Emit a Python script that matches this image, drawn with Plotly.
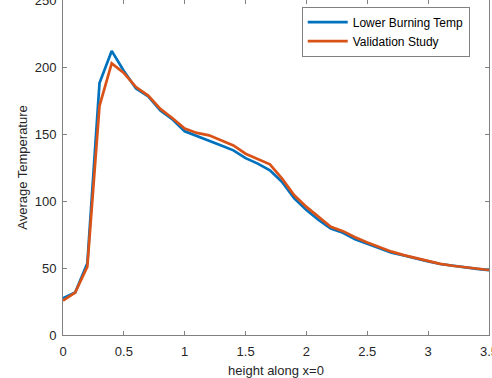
import plotly.graph_objects as go

height_x = [0.0, 0.1, 0.2, 0.3, 0.4, 0.5, 0.6, 0.7, 0.8, 0.9,
            1.0, 1.1, 1.2, 1.3, 1.4, 1.5, 1.6, 1.7, 1.8, 1.9,
            2.0, 2.1, 2.2, 2.3, 2.4, 2.5, 2.6, 2.7, 2.8, 2.9,
            3.0, 3.1, 3.2, 3.3, 3.4, 3.5]

lower_burning = [27.5, 31.7, 53.5, 188, 212, 197, 184, 178, 167.5, 160.8,
                 152, 148.5, 145.5, 141.5, 137.8, 132, 127.9, 122.9, 114.2, 101.9,
                 93.2, 85.8, 79.5, 76.3, 71.4, 67.9, 64.4, 61.4, 59.3, 57.0,
                 54.9, 53.0, 51.6, 50.4, 49.3, 48.4]

validation = [25.7, 31.7, 51.0, 171, 202.7, 195.5, 185, 178.7, 168.7, 161.8,
              154, 150.8, 149, 145.2, 141.5, 135.3, 131.6, 127.4, 116.7, 104.3,
              95.6, 88, 80.8, 77.5, 72.9, 69.1, 65.4, 62.2, 59.6, 57.3,
              55.1, 53.1, 51.7, 50.5, 49.4, 48.5]

x_ticks = [0, 0.5, 1, 1.5, 2, 2.5, 3, 3.5]
y_ticks = [0, 50, 100, 150, 200, 250]

FONT = "Liberation Sans, Arial, Helvetica, sans-serif"
TEXT = "#262626"
AXIS = "#808080"

fig = go.Figure()
fig.add_trace(go.Scatter(x=height_x, y=lower_burning, mode="lines",
                         name="Lower Burning Temp",
                         line=dict(color="#0072BD", width=2.7)))
fig.add_trace(go.Scatter(x=height_x, y=validation, mode="lines",
                         name="Validation Study",
                         line=dict(color="#D95319", width=2.7)))

axis_common = dict(showgrid=False, zeroline=False, showline=True,
                   linecolor=AXIS, linewidth=1, mirror="ticks",
                   ticks="inside", ticklen=4, tickcolor=AXIS, tickwidth=1,
                   automargin=False, ticklabeloverflow="allow",
                   tickfont=dict(family=FONT, size=13, color=TEXT))

fig.update_xaxes(range=[0, 3.5], tickvals=x_ticks,
                 ticktext=[("%g" % v) for v in x_ticks],
                 title=dict(text="height along x=0",
                            font=dict(family=FONT, size=13, color=TEXT),
                            standoff=8),
                 ticklabelstandoff=4,
                 **axis_common)
fig.update_yaxes(range=[0, 250], tickvals=y_ticks,
                 ticktext=[("%g" % v) for v in y_ticks],
                 title=dict(text="Average Temperature",
                            font=dict(family=FONT, size=13, color=TEXT),
                            standoff=4),
                 ticklabelstandoff=3,
                 **axis_common)

fig.update_layout(
    width=492, height=378,
    margin=dict(l=63, r=2.5, t=0, b=42.5, pad=0),
    paper_bgcolor="white", plot_bgcolor="white",
    font=dict(family=FONT, size=13, color=TEXT),
    showlegend=True,
    legend=dict(x=0.5604, y=0.98, xanchor="left", yanchor="top",
                bgcolor="white", bordercolor=AXIS, borderwidth=1,
                font=dict(family=FONT, size=12, color="#000000"),
                tracegroupgap=0, itemwidth=40),
)

fig.write_html("out.html",
               config={"displayModeBar": False},
               post_script="document.body.style.margin='0';"
                           "document.body.style.padding='0';")
